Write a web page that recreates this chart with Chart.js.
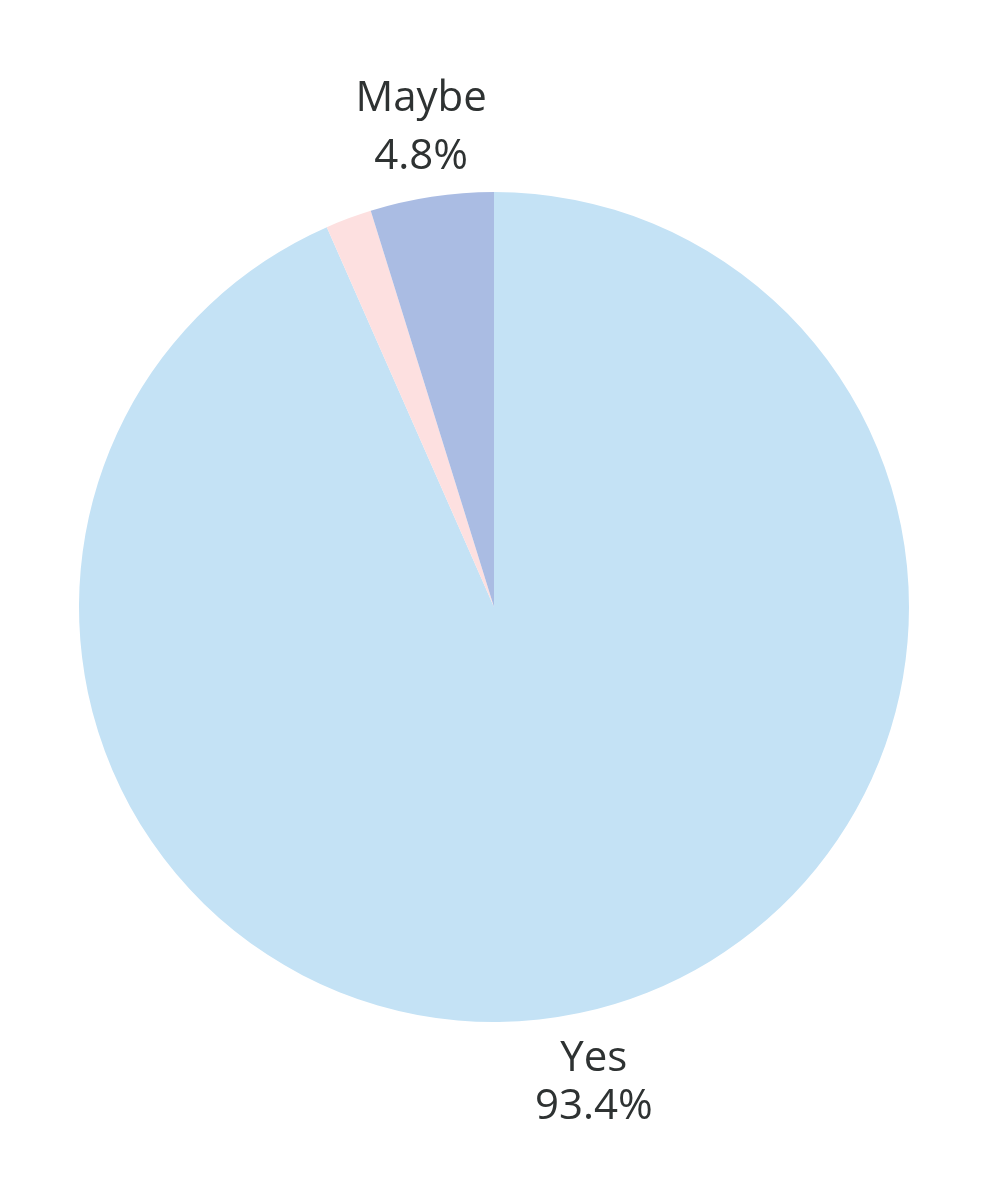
<!DOCTYPE html>
<html>
<head>
<meta charset="utf-8">
<script src="https://cdn.jsdelivr.net/npm/chart.js@4/dist/chart.umd.min.js"></script>
<style>
html,body{margin:0;padding:0;background:#fff;}
#wrap{width:990px;height:1199px;}
</style>
</head>
<body>
<div id="wrap"><canvas id="c" width="990" height="1199"></canvas></div>
<script>
const categories = ["Yes", "No", "Maybe"];
const values = [93.4, 1.8, 4.8];
const shownLabels = ["Yes", "", "Maybe"];
const colors = ["#c4e2f5", "#fde0e0", "#aabce3"];

const labelPlugin = {
  id: 'outerLabels',
  afterDatasetsDraw(chart) {
    const ctx = chart.ctx;
    const meta = chart.getDatasetMeta(0);
    ctx.save();
    ctx.font = '42px "Open Sans", sans-serif';
    ctx.fillStyle = '#2e3232';
    ctx.textAlign = 'center';
    ctx.textBaseline = 'middle';
    meta.data.forEach((arc, i) => {
      if (!shownLabels[i]) return;
      const p = arc.getProps(['x','y','startAngle','endAngle','outerRadius'], true);
      const mid = (p.startAngle + p.endAngle) / 2;
      const R = p.outerRadius + 70;
      const x = p.x + Math.cos(mid) * R;
      const y = p.y + Math.sin(mid) * R;
      const top = Math.sin(mid) < 0;
      const off = top ? [-28, 30] : [-23, 25];
      ctx.fillText(shownLabels[i], x, y + off[0]);
      ctx.fillText(values[i].toFixed(1) + '%', x, y + off[1]);
    });
    ctx.restore();
  }
};

new Chart(document.getElementById('c'), {
  type: 'pie',
  data: {
    labels: categories,
    datasets: [{
      data: values,
      backgroundColor: colors,
      borderWidth: 0
    }]
  },
  options: {
    responsive: false,
    animation: false,
    layout: { padding: { left: 79, right: 81, top: 192, bottom: 177 } },
    plugins: { legend: { display: false }, tooltip: { enabled: false } }
  },
  plugins: [labelPlugin]
});
</script>
</body>
</html>
